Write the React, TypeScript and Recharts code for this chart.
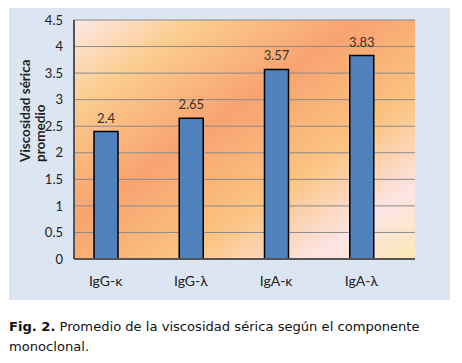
import { BarChart, Bar, XAxis, YAxis, CartesianGrid, LabelList } from "recharts";

const categories = ["IgG-κ", "IgG-λ", "IgA-κ", "IgA-λ"];
const viscosity = [2.4, 2.65, 3.57, 3.83];
const yTicks = [0, 0.5, 1, 1.5, 2, 2.5, 3, 3.5, 4, 4.5];

const data = categories.map((name, i) => ({ name, value: viscosity[i] }));

const FONT = "Lato, 'Open Sans', sans-serif";

function YTitle() {
  return (
    <text
      transform="translate(21 154) rotate(-90)"
      fontFamily={FONT}
      fontSize={13.5}
      fontWeight="bold"
      fill="#222"
    >
      <tspan x={0} dy={0}>Viscosidad sérica</tspan>
      <tspan x={0} dy={15}>promedio</tspan>
    </text>
  );
}

export default function App() {
  return (
    <div style={{ width: 446, marginLeft: 1 }}>
      <div style={{ background: "#dce6f2", width: 441, height: 292 }}>
        <BarChart
          width={441}
          height={292}
          data={data}
          margin={{ top: 12, right: 35, bottom: 0, left: 0 }}
        >
          <defs>
            <linearGradient id="bg" x1="0" y1="0" x2="1" y2="1">
              <stop offset="0" stopColor="#fde8e8" />
              <stop offset="0.18" stopColor="#fbcd90" />
              <stop offset="0.42" stopColor="#f8a370" />
              <stop offset="0.66" stopColor="#fbc482" />
              <stop offset="0.85" stopColor="#fde4e6" />
              <stop offset="1" stopColor="#fce8b4" />
            </linearGradient>
          </defs>
          <CartesianGrid vertical={false} stroke="#8a8a8a" fill="url(#bg)" fillOpacity={1} />
          <XAxis
            dataKey="name"
            height={41}
            tickSize={0}
            tickMargin={17}
            tick={{ fontFamily: FONT, fontSize: 14, fill: "#222" }}
            axisLine={{ stroke: "#555", strokeWidth: 2 }}
            padding={{ left: -11, right: 11 }}
          />
          <XAxis
            xAxisId="top"
            dataKey="name"
            orientation="top"
            height={0}
            tick={false}
            tickLine={false}
            axisLine={{ stroke: "#555", strokeWidth: 2 }}
          />
          <YAxis
            domain={[0, 4.5]}
            ticks={yTicks}
            width={65}
            tickSize={0}
            tickMargin={11}
            interval={0}
            tick={{ fontFamily: FONT, fontSize: 13, fill: "#222" }}
            axisLine={{ stroke: "#555", strokeWidth: 2 }}
            label={{ content: () => <YTitle /> }}
          />
          <YAxis
            yAxisId="right"
            orientation="right"
            domain={[0, 4.5]}
            width={0}
            tick={false}
            tickLine={false}
            axisLine={{ stroke: "#555", strokeWidth: 2 }}
          />
          <Bar
            dataKey="value"
            barSize={24}
            fill="#4f81bd"
            stroke="#000"
            strokeWidth={1.5}
            isAnimationActive={false}
          >
            <LabelList
              dataKey="value"
              position="top"
              offset={9}
              style={{ fontFamily: FONT, fontSize: 13, fill: "#333" }}
            />
          </Bar>
        </BarChart>
      </div>
      <div
        style={{
          fontFamily: "'DejaVu Sans', Verdana, sans-serif",
          fontSize: 13.1,
          lineHeight: "20px",
          color: "#111",
          marginTop: 17,
          marginLeft: 0,
        }}
      >
        <b>Fig. 2.</b> Promedio de la viscosidad sérica según el componente
        <br />
        monoclonal.
      </div>
    </div>
  );
}
